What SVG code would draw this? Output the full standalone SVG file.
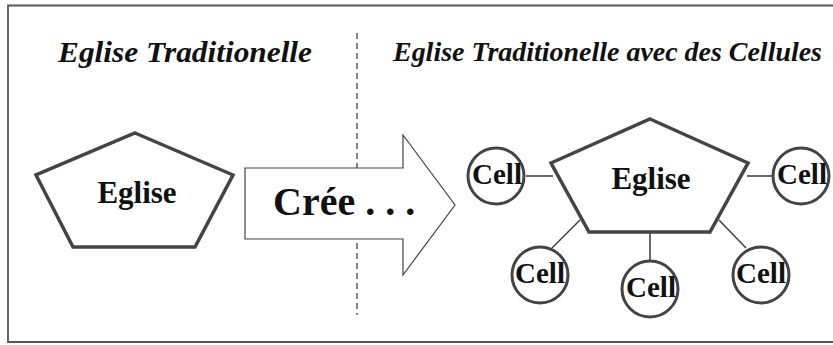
<svg xmlns="http://www.w3.org/2000/svg" width="833" height="345" viewBox="0 0 833 345">
<style>
.title{font-family:"Liberation Serif","Times New Roman",serif;font-weight:bold;font-style:italic;fill:#111}
.lbl{font-family:"Liberation Serif","Times New Roman",serif;font-weight:bold;fill:#111;text-anchor:middle}
.pent{fill:#fff;stroke:#444;stroke-width:3.5;stroke-linejoin:miter}
.cell{fill:#fff;stroke:#444;stroke-width:3}
.conn{stroke:#444;stroke-width:1.6;fill:none}
</style>
<rect width="833" height="345" fill="#fff"/>
<path d="M840 5.5 H8 V342 H840" fill="none" stroke="#555" stroke-width="1.8"/>
<text class="title" x="58" y="62" font-size="30" textLength="254" lengthAdjust="spacingAndGlyphs">Eglise Traditionelle</text>
<text class="title" x="393" y="61" font-size="28" textLength="429" lengthAdjust="spacingAndGlyphs">Eglise Traditionelle avec des Cellules</text>
<line x1="357" y1="33" x2="357" y2="315" stroke="#444" stroke-width="1.3" stroke-dasharray="6,4"/>
<g id="eglise-trad">
<polygon class="pent" points="135,133 233,175 195,247 73,247 36,175"/>
<text class="lbl" x="137" y="203" font-size="31">Eglise</text>
</g>
<g id="arrow-cree">
<polygon points="245,168 403,168 403,135 455,205 403,275 403,239 245,239" fill="#fff" stroke="#444" stroke-width="1.2"/>
<text x="273" y="215" font-family="Liberation Serif,Times New Roman,serif" font-weight="bold" font-size="40" fill="#111">Crée . . .</text>
</g>
<g id="connectors">
<line class="conn" x1="526" y1="176" x2="553" y2="176"/>
<line class="conn" x1="747" y1="176" x2="773" y2="176"/>
<line class="conn" x1="580" y1="220" x2="552" y2="248"/>
<line class="conn" x1="650" y1="232" x2="650" y2="261"/>
<line class="conn" x1="719" y1="220" x2="746" y2="248"/>
</g>
<g id="eglise-cell">
<polygon class="pent" points="650,119 748,163 710,232 589,232 551,163"/>
<text class="lbl" x="651" y="189" font-size="31">Eglise</text>
</g>
<g id="cell-1"><circle class="cell" cx="496" cy="176" r="28"/><text class="lbl" x="497" y="184" font-size="29">Cell</text></g>
<g id="cell-2"><circle class="cell" cx="801" cy="176" r="28"/><text class="lbl" x="802" y="184" font-size="29">Cell</text></g>
<g id="cell-3"><circle class="cell" cx="540" cy="275" r="28"/><text class="lbl" x="540" y="283" font-size="29">Cell</text></g>
<g id="cell-4"><circle class="cell" cx="650" cy="289" r="28"/><text class="lbl" x="651" y="297" font-size="29">Cell</text></g>
<g id="cell-5"><circle class="cell" cx="761" cy="275" r="28"/><text class="lbl" x="761" y="283" font-size="29">Cell</text></g>
</svg>
